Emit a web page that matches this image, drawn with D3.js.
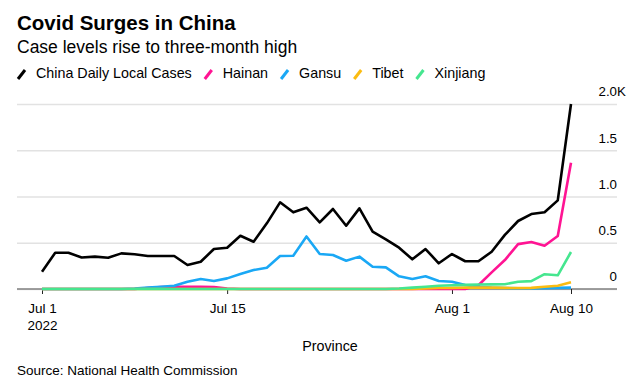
<!DOCTYPE html>
<html>
<head>
<meta charset="utf-8">
<script src="https://cdn.jsdelivr.net/npm/d3@7"></script>
<style>
  body { margin: 0; background: #fff; }
  svg text { font-family: "Liberation Sans", Arial, Helvetica, sans-serif; fill: #000; }
</style>
</head>
<body>
<script>
// Data (daily cases, Jul 1 - Aug 10 2022)
var dates = [
  "2022-07-01", "2022-07-02", "2022-07-03", "2022-07-04", "2022-07-05", "2022-07-06", "2022-07-07",
  "2022-07-08", "2022-07-09", "2022-07-10", "2022-07-11", "2022-07-12", "2022-07-13", "2022-07-14",
  "2022-07-15", "2022-07-16", "2022-07-17", "2022-07-18", "2022-07-19", "2022-07-20", "2022-07-21",
  "2022-07-22", "2022-07-23", "2022-07-24", "2022-07-25", "2022-07-26", "2022-07-27", "2022-07-28",
  "2022-07-29", "2022-07-30", "2022-07-31", "2022-08-01", "2022-08-02", "2022-08-03", "2022-08-04",
  "2022-08-05", "2022-08-06", "2022-08-07", "2022-08-08", "2022-08-09", "2022-08-10"
];

var chinaCases = [187, 392, 392, 340, 350, 338, 385, 375, 357, 357, 357, 259, 295, 432, 446, 576, 511,
  710, 937, 829, 879, 721, 865, 684, 872, 620, 537, 447, 321, 432, 278, 378, 300, 300, 403, 585, 735,
  810, 829, 958, 2000];
var hainan = [0, 0, 0, 0, 0, 0, 0, 0, 10, 20, 25, 25, 25, 20, 5, 0, 0, 0, 0, 0, 0, 0, 0, 0, 0, 0, 0,
  0, 0, 0, 0, 0, 0, 40, 180, 313, 485, 508, 468, 573, 1365];
var gansu = [0, 0, 0, 0, 0, 0, 0, 5, 15, 25, 35, 79, 108, 86, 115, 162, 205, 230, 357, 360, 568, 378,
  368, 306, 350, 241, 234, 137, 108, 137, 86, 79, 43, 25, 15, 10, 8, 5, 8, 12, 15];
var tibet = [0, 0, 0, 0, 0, 0, 0, 0, 0, 0, 0, 0, 0, 0, 0, 0, 0, 0, 0, 0, 0, 0, 0, 0, 0, 0, 0, 0, 0,
  5, 10, 12, 15, 15, 15, 12, 10, 12, 25, 35, 72];
var xinjiang = [0, 0, 0, 0, 0, 0, 0, 0, 0, 0, 0, 0, 0, 0, 0, 0, 0, 0, 0, 0, 0, 0, 0, 0, 0, 0, 0, 5,
  15, 25, 35, 40, 45, 48, 50, 52, 78, 85, 160, 148, 400];

var seriesNames = ["China Daily Local Cases", "Hainan", "Gansu", "Tibet", "Xinjiang"];
var seriesColors = ["#000000", "#ff1493", "#1aa8f5", "#fbbc11", "#45e68f"];

var xTickDates = ["2022-07-01", "2022-07-15", "2022-08-01", "2022-08-10"];
var xTickLabels = [["Jul 1", "2022"], ["Jul 15"], ["Aug 1"], ["Aug 10"]];
var yTicks = [0, 500, 1000, 1500, 2000];

// Setting up sizes
var svgWidth = 637;
var svgHeight = 389;
var plotLeft = 17, plotRight = 617;

var parseDate = d3.timeParse("%Y-%m-%d");
var allSeries = [chinaCases, hainan, gansu, tibet, xinjiang].map(function (vals, i) {
  return {
    name: seriesNames[i],
    color: seriesColors[i],
    values: vals.map(function (v, j) { return { date: parseDate(dates[j]), value: v }; })
  };
});

var svg = d3.select("body")
  .append("svg")
  .attr("width", svgWidth)
  .attr("height", svgHeight);

// Scales
var xScale = d3.scaleTime()
  .domain([parseDate(dates[0]), parseDate(dates[dates.length - 1])])
  .range([42, 571]);

var yScale = d3.scaleLinear()
  .domain([0, 2000])
  .range([289, 104]);

// Title block
svg.append("text")
  .attr("x", 17).attr("y", 30)
  .style("font-size", "20.5px")
  .style("font-weight", "bold")
  .text("Covid Surges in China");

svg.append("text")
  .attr("x", 17).attr("y", 53)
  .style("font-size", "17.5px")
  .text("Case levels rise to three-month high");

// Legend
var legendX = 17;
allSeries.forEach(function (s) {
  var g = svg.append("g");
  g.append("line")
    .attr("x1", legendX + 1).attr("y1", 79)
    .attr("x2", legendX + 8).attr("y2", 70)
    .attr("stroke", s.color)
    .attr("stroke-width", 3);
  var t = g.append("text")
    .attr("x", legendX + 19).attr("y", 78)
    .style("font-size", "14.3px")
    .text(s.name);
  legendX = legendX + 19 + t.node().getComputedTextLength() + 12;
});

// Gridlines + right y labels
var yAxis = d3.axisRight(yScale)
  .tickValues(yTicks)
  .tickSize(-(plotRight - plotLeft))
  .tickFormat(function (d) { return d === 0 ? "0" : d3.format(".1f")(d / 1000); });

var yG = svg.append("g")
  .attr("transform", "translate(" + plotRight + ",0)")
  .call(yAxis);

yG.select(".domain").remove();
yG.selectAll(".tick line")
  .attr("stroke", "#e2e2e2")
  .attr("stroke-width", 1.3);
yG.selectAll(".tick text")
  .attr("x", 0)
  .attr("dy", "-0.62em")
  .attr("text-anchor", "end")
  .style("font-size", "13.3px")
  .attr("fill", "#000");
yG.selectAll(".tick")
  .filter(function (d) { return d === 2000; })
  .append("text")
  .attr("x", 0)
  .attr("dy", "-0.62em")
  .attr("text-anchor", "start")
  .style("font-size", "13.3px")
  .attr("fill", "#000")
  .text("K");

// Baseline
svg.append("line")
  .attr("x1", plotLeft).attr("x2", plotRight)
  .attr("y1", yScale(0)).attr("y2", yScale(0))
  .attr("stroke", "#808080")
  .attr("stroke-width", 1.5);

// Bottom axis
var xAxis = d3.axisBottom(xScale)
  .tickValues(xTickDates.map(parseDate))
  .tickSize(5)
  .tickFormat("");

var xG = svg.append("g")
  .attr("transform", "translate(0," + yScale(0) + ")")
  .call(xAxis);

xG.select(".domain").remove();
xG.selectAll(".tick line").attr("stroke", "#222");
xG.selectAll(".tick").each(function (d, i) {
  var t = d3.select(this).append("text")
    .attr("text-anchor", "middle")
    .attr("y", 24)
    .style("font-size", "13.5px")
    .attr("fill", "#000");
  xTickLabels[i].forEach(function (line, k) {
    t.append("tspan").attr("x", 0).attr("dy", k === 0 ? 0 : 17).text(line);
  });
});

// Lines
var line = d3.line()
  .x(function (d) { return xScale(d.date); })
  .y(function (d) { return yScale(d.value); });

svg.append("g").selectAll("path")
  .data(allSeries)
  .enter().append("path")
  .attr("d", function (s) { return line(s.values); })
  .attr("fill", "none")
  .attr("stroke", function (s) { return s.color; })
  .attr("stroke-width", 2.6)
  .attr("stroke-linejoin", "round");

// Axis title and source
svg.append("text")
  .attr("x", 330).attr("y", 351)
  .attr("text-anchor", "middle")
  .style("font-size", "14.3px")
  .text("Province");

svg.append("text")
  .attr("x", 17).attr("y", 375)
  .style("font-size", "13.5px")
  .attr("fill", "#222")
  .text("Source: National Health Commission");
</script>
</body>
</html>
